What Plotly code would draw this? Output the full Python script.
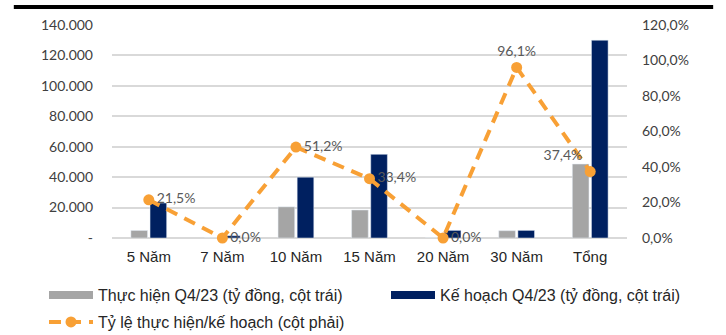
import plotly.graph_objects as go

# Dữ liệu theo kỳ hạn
categories = ["5 Năm", "7 Năm", "10 Năm", "15 Năm", "20 Năm", "30 Năm", "Tổng"]
thuc_hien = [4950, 0, 20480, 18400, 0, 4800, 48600]          # tỷ đồng
ke_hoach = [23000, 1500, 40000, 55000, 5000, 5000, 130000]   # tỷ đồng
ty_le = [0.215, 0.0, 0.512, 0.334, 0.0, 0.961, 0.374]
ty_le_labels = ["21,5%", "0,0%", "51,2%", "33,4%", "0,0%", "96,1%", "37,4%"]
label_pos = ["middle right", "middle right", "middle right", "middle right",
             "middle right", "top center", "top left"]

left_ticks = [0, 20000, 40000, 60000, 80000, 100000, 120000, 140000]
left_ticktext = ["-", "20.000", "40.000", "60.000", "80.000", "100.000", "120.000", "140.000"]
right_ticks = [0, 0.2, 0.4, 0.6, 0.8, 1.0, 1.2]
right_ticktext = ["0,0%", "20,0%", "40,0%", "60,0%", "80,0%", "100,0%", "120,0%"]

names = ["Thực hiện Q4/23 (tỷ đồng, cột trái)",
         "Kế hoạch Q4/23 (tỷ đồng, cột trái)",
         "Tỷ lệ thực hiện/kế hoạch (cột phải)"]

GRAY = "#A5A5A5"
NAVY = "#002060"
ORANGE = "#F8A035"
TICK_FONT = dict(family="Lato, Carlito, sans-serif", size=14, color="#404040")
LEGEND_FONT = dict(family="Liberation Sans, Arial, sans-serif", size=16, color="#262626")

fig = go.Figure()
fig.add_trace(go.Bar(x=categories, y=thuc_hien, name=names[0], legendgroup="th",
                     marker_color=GRAY, yaxis="y", showlegend=False))
fig.add_trace(go.Bar(x=categories, y=ke_hoach, name=names[1], legendgroup="kh",
                     marker_color=NAVY, yaxis="y", showlegend=False))
# Mẫu chú giải dạng thanh ngang cho hai chuỗi cột
fig.add_trace(go.Scatter(x=[None], y=[None], mode="lines", name=names[0], legendgroup="th",
                         line=dict(color=GRAY, width=8), showlegend=True, legend="legend"))
fig.add_trace(go.Scatter(x=[None], y=[None], mode="lines", name=names[1], legendgroup="kh",
                         line=dict(color=NAVY, width=8), showlegend=True, legend="legend2"))
fig.add_trace(go.Scatter(
    x=categories, y=ty_le, name=names[2], legend="legend3",
    mode="lines+markers+text", yaxis="y2",
    line=dict(color=ORANGE, width=4, dash="12px,8px"),
    marker=dict(color=ORANGE, size=11),
    text=ty_le_labels, textposition=label_pos,
    textfont=dict(family="Lato, Carlito, sans-serif", size=14, color="#595959"),
    cliponaxis=False,
))


def legend_box(x_px, y_top_px):
    return dict(orientation="h", xref="container", yref="container",
                x=x_px / 726, y=1 - y_top_px / 335, xanchor="left", yanchor="top",
                itemwidth=44, font=LEGEND_FONT, bgcolor="rgba(0,0,0,0)")


fig.update_layout(
    width=726, height=335,
    margin=dict(l=112, r=99, t=25, b=97, autoexpand=False),
    paper_bgcolor="white", plot_bgcolor="white",
    barmode="group", bargap=0.48, bargroupgap=0.13,
    xaxis=dict(showgrid=False, showline=False, ticks="", ticklabelstandoff=8,
               tickfont=dict(family="Liberation Sans, Arial, sans-serif", size=15, color="#262626")),
    yaxis=dict(range=[0, 140000], tickvals=left_ticks, ticktext=left_ticktext,
               showgrid=True, gridcolor="#D9D9D9", gridwidth=1.5,
               zeroline=True, zerolinecolor="#D9D9D9", zerolinewidth=1.5,
               showline=False, ticks="", tickfont=TICK_FONT, ticklabelstandoff=18),
    yaxis2=dict(range=[0, 1.2], tickvals=right_ticks, ticktext=right_ticktext,
                overlaying="y", side="right", showgrid=False, zeroline=False,
                showline=False, ticks="", tickfont=TICK_FONT, ticklabelstandoff=14),
    legend=legend_box(44, 278),
    legend2=legend_box(386, 278),
    legend3=legend_box(44, 305),
    showlegend=True,
)

# Thanh đen phía trên biểu đồ
fig.add_shape(type="rect", xref="paper", yref="paper",
              x0=-98 / 514, x1=600 / 514, y0=1 + 16 / 213, y1=1 + 20 / 213,
              fillcolor="black", line_width=0)

fig.write_html("out.html")
